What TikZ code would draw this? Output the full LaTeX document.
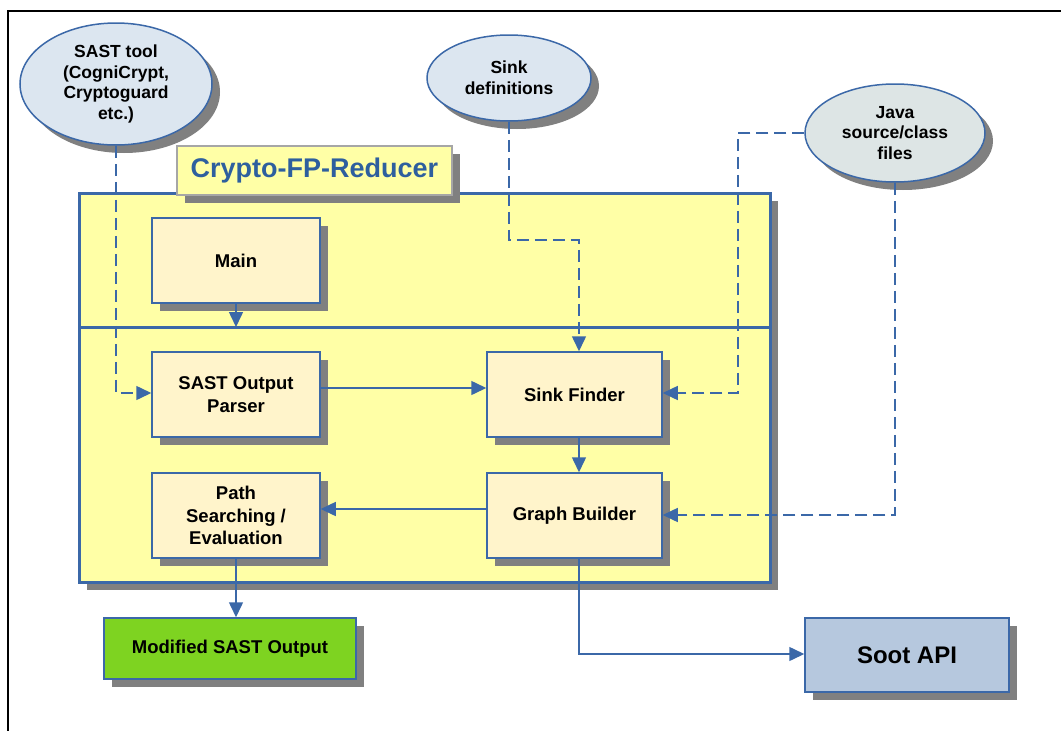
\documentclass[tikz,border=0pt]{standalone}
\usepackage{fontspec}
\setmainfont{Liberation Sans}
\usetikzlibrary{shapes.geometric,shadows,arrows.meta}

\definecolor{lineblue}{HTML}{3B68A8}
\definecolor{reduceryellow}{HTML}{FFFFA6}
\definecolor{modulefill}{HTML}{FFF4CB}
\definecolor{inputfill}{HTML}{DCE6F0}
\definecolor{javafill}{HTML}{DDE5E5}
\definecolor{outputgreen}{HTML}{7ED321}
\definecolor{sootfill}{HTML}{B6C8DE}
\definecolor{titleblue}{HTML}{2E5F9E}

\begin{document}
\begin{tikzpicture}[x=1pt, y=-1pt,
    shade box/.style={drop shadow={shadow xshift=8pt, shadow yshift=-8pt, opacity=1, fill=gray}},
    module/.style={draw=lineblue, line width=1.5pt, fill=modulefill, shade box,
        minimum width=168, minimum height=85, inner sep=0pt, align=center,
        font=\fontsize{18.5}{22.4}\selectfont\bfseries},
    input/.style={ellipse, draw=lineblue, line width=1.5pt, fill=inputfill, shade box,
        inner sep=0pt, align=center, font=\fontsize{17.5}{20.7}\selectfont\bfseries},
    arr/.style={draw=lineblue, line width=1.5pt, -{Triangle[length=15pt, width=14pt]}},
    dasharr/.style={arr, dash pattern=on 12pt off 6pt}]
\useasboundingbox (0,0) rectangle (1061,731);
% page frame
\draw[line width=2pt] (8,731) -- (8,11) -- (1061,11);

% inputs
\node[input, minimum width=192, minimum height=122] (sasttool) at (116,84)
    {SAST tool\\(CogniCrypt,\\Cryptoguard\\etc.)};
\node[input, minimum width=164, minimum height=86] (sinkdefs) at (509,78)
    {Sink\\definitions};
\node[input, fill=javafill, minimum width=180, minimum height=98] (javafiles) at (895,133)
    {Java\\source/class\\files};

% the tool
\node[draw=lineblue, line width=3pt, fill=reduceryellow, shade box,
    minimum width=691, minimum height=389] (reducer) at (424.5,387.5) {};
\coordinate (divl) at (79,327);
\coordinate (divr) at (770,327);
\draw[draw=lineblue, line width=3pt] (divl) -- (divr);
\node[draw=black!35, line width=1.5pt, fill=reduceryellow, shade box,
    minimum width=275, minimum height=49, inner sep=0pt, text=titleblue,
    font=\fontsize{27}{30}\selectfont\bfseries] (title) at (314.5,170.5) {Crypto-FP-Reducer};

% modules
\node[module] (main) at (236,260.5) {Main};
\node[module] (parser) at (236,394.5) {SAST Output\\Parser};
\node[module] (pathsearch) at (236,515.5) {Path\\Searching /\\Evaluation};
\node[module, minimum width=175] (sinkfinder) at (574.5,394.5) {Sink Finder};
\node[module, minimum width=175] (graphbuilder) at (574.5,515.5) {Graph Builder};

% outputs
\node[draw=lineblue, line width=1.5pt, fill=outputgreen, shade box,
    minimum width=252, minimum height=61, inner sep=0pt,
    font=\fontsize{18.5}{22}\selectfont\bfseries] (modified) at (230,648.5) {Modified SAST Output};
\node[draw=lineblue, line width=1.5pt, fill=sootfill, shade box,
    minimum width=204, minimum height=74, inner sep=0pt,
    font=\fontsize{24}{28}\selectfont\bfseries] (soot) at (907,655) {Soot API};

% connectors
\draw[arr] (main.south) -- (main.south |- divl);
\draw[dasharr] (sasttool.south) -- (116,393) -- (parser.west |- 0,393);
\draw[dasharr] (sinkdefs.south) -- (509,240) -- (579,240) -- (579,0 |- sinkfinder.north);
\draw[dasharr] (javafiles.west) -- (738,133) -- (738,393) -- (sinkfinder.east |- 0,393);
\draw[dasharr] (javafiles.south) -- (895,515) -- (graphbuilder.east |- 0,515);
\draw[arr] (parser.east |- 0,388) -- (sinkfinder.west |- 0,388);
\draw[arr] (579,0 |- sinkfinder.south) -- (579,0 |- graphbuilder.north);
\draw[arr] (graphbuilder.west |- 0,509) -- (pathsearch.east |- 0,509);
\draw[arr] (pathsearch.south) -- (236,0 |- modified.north);
\draw[arr] (579,0 |- graphbuilder.south) -- (579,654) -- (soot.west |- 0,654);
\end{tikzpicture}
\end{document}
